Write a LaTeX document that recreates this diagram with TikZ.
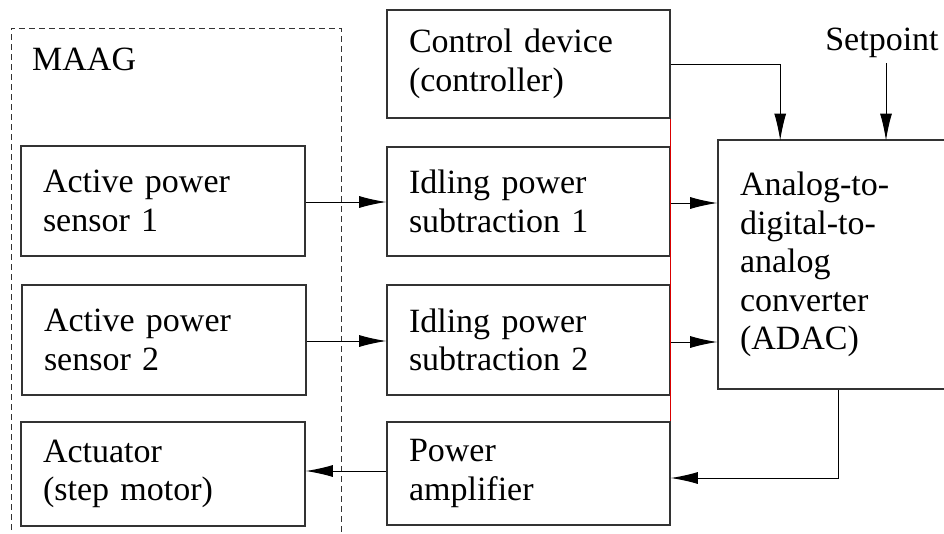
\documentclass[tikz,border=0pt]{standalone}
\usepackage{fontspec}
\setmainfont{Liberation Serif}
\usetikzlibrary{arrows.meta,calc}
\definecolor{boxline}{HTML}{333333}
\begin{document}
\begin{tikzpicture}[x=1pt,y=-1pt,
  blk/.style={draw=boxline, line width=1.6pt, rectangle, inner xsep=22pt, inner ysep=0pt,
    align=left, font=\fontsize{34}{38.5}\selectfont, text=black},
  arr/.style={draw=black, line width=1pt, -{Latex[length=27pt,width=12pt]}},
  lbl/.style={font=\fontsize{34}{38.5}\selectfont, inner sep=0pt}]
\useasboundingbox (0,0) rectangle (944,533);
\clip (0,0) rectangle (944,533);
% MAAG dashed frame
\draw[boxline, line width=1pt, dash pattern=on 6pt off 4pt] (11,540) -- (11,28) -- (341,28) -- (341,540);
\node[lbl, anchor=base west] (maag) at (32,70) {MAAG};
% boxes
\node[blk, text width=239pt, minimum height=108pt] (ctrl) at (528.5,64) {Control device\\(controller)};
\node[blk, text width=240pt, minimum height=110pt] (s1) at (163,201) {Active power\\sensor 1};
\node[blk, text width=239pt, minimum height=109pt] (i1) at (528.5,201.5) {Idling power\\subtraction 1};
\node[blk, text width=240pt, minimum height=110pt] (s2) at (164,340) {Active power\\sensor 2};
\node[blk, text width=239pt, minimum height=110pt] (i2) at (528.5,340) {Idling power\\subtraction 2};
\node[blk, text width=240pt, minimum height=104pt] (act) at (163,474) {Actuator\\(step motor)};
\node[blk, text width=239pt, minimum height=103pt] (amp) at (528.5,473.5) {Power\\amplifier};
\node[blk, text width=192pt, minimum height=249pt] (adac) at (836,264.5) {Analog-to-\\digital-to-\\analog\\converter\\(ADAC)};
\node[lbl, anchor=base] (sp) at (882,50) {Setpoint};
% red thin line
\draw[red!85!black, line width=0.8pt] (ctrl.south east) -- (amp.north east);
% connectors
\draw[arr] ([yshift=-1pt]s1.east) -- ([yshift=-1pt]s1.east -| i1.west);
\draw[arr] ([yshift=-1pt]s2.east) -- ([yshift=-1pt]s2.east -| i2.west);
\draw[arr] ([yshift=-1.5pt]i1.east) -- ([yshift=-1.5pt]i1.east -| adac.west);
\draw[arr] ([yshift=-2pt]i2.east) -- ([yshift=-2pt]i2.east -| adac.west);
\draw[arr] (ctrl.east) -| ([xshift=63pt]adac.north west |- 0,140.5);
\draw[arr] (886,63) -- (886,140.5);
\draw[arr] ([xshift=121pt]adac.south west) |- ([yshift=-4.5pt]amp.east);
\draw[arr] ([yshift=2.5pt]amp.west) -- ([yshift=3pt]act.east);
\end{tikzpicture}
\end{document}
